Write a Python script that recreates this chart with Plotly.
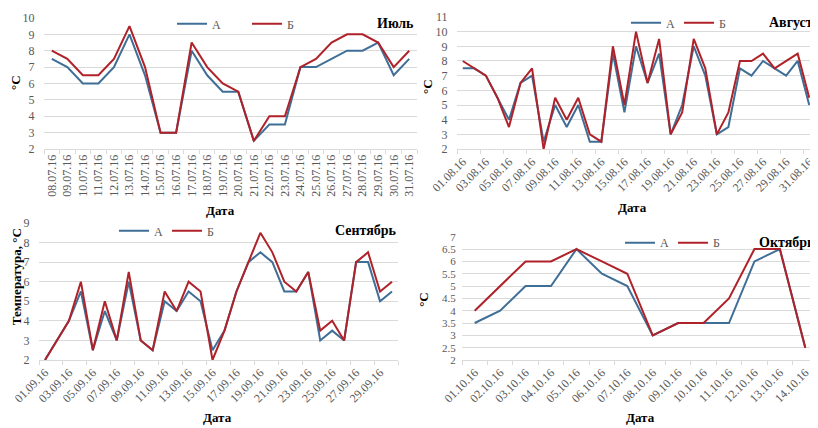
import plotly.graph_objects as go

# ---------------- data ----------------
jul_dates = ["08.07.16", "09.07.16", "10.07.16", "11.07.16", "12.07.16", "13.07.16",
             "14.07.16", "15.07.16", "16.07.16", "17.07.16", "18.07.16", "19.07.16",
             "20.07.16", "21.07.16", "22.07.16", "23.07.16", "24.07.16", "25.07.16",
             "26.07.16", "27.07.16", "28.07.16", "29.07.16", "30.07.16", "31.07.16"]
jul_a = [7.5, 7, 6, 6, 7, 9, 6.5, 3, 3, 8, 6.5, 5.5, 5.5, 2.5, 3.5, 3.5, 7, 7, 7.5, 8, 8, 8.5, 6.5, 7.5]
jul_b = [8, 7.5, 6.5, 6.5, 7.5, 9.5, 7, 3, 3, 8.5, 7, 6, 5.5, 2.5, 4, 4, 7, 7.5, 8.5, 9, 9, 8.5, 7, 8]

aug_dates = ["01.08.16", "02.08.16", "03.08.16", "04.08.16", "05.08.16", "06.08.16",
             "07.08.16", "08.08.16", "09.08.16", "10.08.16", "11.08.16", "12.08.16",
             "13.08.16", "14.08.16", "15.08.16", "16.08.16", "17.08.16", "18.08.16",
             "19.08.16", "20.08.16", "21.08.16", "22.08.16", "23.08.16", "24.08.16",
             "25.08.16", "26.08.16", "27.08.16", "28.08.16", "29.08.16", "30.08.16",
             "31.08.16"]
aug_a = [7.5, 7.5, 7, 5.5, 4, 6.5, 7, 2.5, 5, 3.5, 5, 2.5, 2.5, 8.5, 4.5, 9, 6.5, 8.5,
         3, 5, 9, 7, 3, 3.5, 7.5, 7, 8, 7.5, 7, 8, 5]
aug_b = [8, 7.5, 7, 5.5, 3.5, 6.5, 7.5, 2, 5.5, 4, 5.5, 3, 2.5, 9, 5, 10, 6.5, 9.5,
         3, 4.5, 9.5, 7.5, 3, 4.5, 8, 8, 8.5, 7.5, 8, 8.5, 5.5]

sep_dates = ["01.09.16", "02.09.16", "03.09.16", "04.09.16", "05.09.16", "06.09.16",
             "07.09.16", "08.09.16", "09.09.16", "10.09.16", "11.09.16", "12.09.16",
             "13.09.16", "14.09.16", "15.09.16", "16.09.16", "17.09.16", "18.09.16",
             "19.09.16", "20.09.16", "21.09.16", "22.09.16", "23.09.16", "24.09.16",
             "25.09.16", "26.09.16", "27.09.16", "28.09.16", "29.09.16", "30.09.16"]
sep_a = [2, 3, 4, 5.5, 2.5, 4.5, 3, 6, 3, 2.5, 5, 4.5, 5.5, 5, 2.5, 3.5, 5.5, 7,
         7.5, 7, 5.5, 5.5, 6.5, 3, 3.5, 3, 7, 7, 5, 5.5]
sep_b = [2, 3, 4, 6, 2.5, 5, 3, 6.5, 3, 2.5, 5.5, 4.5, 6, 5.5, 2, 3.5, 5.5, 7,
         8.5, 7.5, 6, 5.5, 6.5, 3.5, 4, 3, 7, 7.5, 5.5, 6]

oct_dates = ["01.10.16", "02.10.16", "03.10.16", "04.10.16", "05.10.16", "06.10.16",
             "07.10.16", "08.10.16", "09.10.16", "10.10.16", "11.10.16", "12.10.16",
             "13.10.16", "14.10.16"]
oct_a = [3.5, 4, 5, 5, 6.5, 5.5, 5, 3, 3.5, 3.5, 3.5, 6, 6.5, 2.5]
oct_b = [4, 5, 6, 6, 6.5, 6, 5.5, 3, 3.5, 3.5, 4.5, 6.5, 6.5, 2.5]

series_names = ["А", "Б"]
month_titles = ["Июль", "Август", "Сентябрь", "Октябрь"]

# ---------------- style ----------------
OFF = 8                      # page body margin of the html page
W, H = 818 - OFF, 428 - OFF  # figure size so that it ends at the window edge
BLUE = "#3F6E96"
RED = "#AF2229"
GRID = "#DADADA"
TICKC = "#595959"
FONT = "Liberation Serif"


def px(x):
    return (x - OFF) / W


def py(y):
    return 1 - (y - OFF) / H


panels = [
    dict(dates=jul_dates, a=jul_a, b=jul_b, title=month_titles[0],
         xd=[44, 417], yd=[145, 12], yr=[2, 10], dt=1, xdt=1, ang=-90, ygap=6, yfs=12,
         ytitle="°C", yt_pos=(16, 78), dt_pos=(220, 207),
         leg=(172, 18), legw=30, tpos=(416, 18)),
    dict(dates=aug_dates, a=aug_a, b=aug_b, title=month_titles[1],
         xd=[457, 815], yd=[145, 11], yr=[2, 11], dt=1, xdt=2, ang=-45, ygap=6, yfs=12,
         ytitle="°C", yt_pos=(428, 82), dt_pos=(632, 204),
         leg=(626, 17), legw=8, tpos=(815, 17)),
    dict(dates=sep_dates, a=sep_a, b=sep_b, title=month_titles[2],
         xd=[39, 398], yd=[359, 220], yr=[2, 9], dt=1, xdt=2, ang=-45, ygap=6, yfs=12,
         ytitle="Температура, °C", yt_pos=(16, 275), dt_pos=(217, 417),
         leg=(114, 228), legw=8, tpos=(399, 228)),
    dict(dates=oct_dates, a=oct_a, b=oct_b, title=month_titles[3],
         xd=[462, 818], yd=[359, 234], yr=[2, 7], dt=0.5, xdt=1, ang=-45, ygap=3, yfs=11,
         ytitle="°C", yt_pos=(424, 298), dt_pos=(640, 417),
         leg=(620, 240), legw=8, tpos=(817, 240)),
]

fig = go.Figure()
annotations = []
layout = {}

for i, p in enumerate(panels, start=1):
    sfx = "" if i == 1 else str(i)
    legname = "legend" if i == 1 else f"legend{i}"
    for name, vals, col in ((series_names[0], p["a"], BLUE), (series_names[1], p["b"], RED)):
        fig.add_trace(go.Scatter(
            x=p["dates"], y=vals, mode="lines", name=name,
            line=dict(color=col, width=2),
            xaxis="x" + sfx, yaxis="y" + sfx, legend=legname,
        ))
    layout["xaxis" + sfx] = dict(
        domain=[px(p["xd"][0]), min(px(p["xd"][1]), 1.0)],
        anchor="y" + sfx, type="category",
        range=[-0.5, len(p["dates"]) - 0.5],
        tickson="boundaries", ticks="outside", ticklen=4, tickcolor=GRID,
        showline=True, linecolor=GRID, linewidth=1,
        showgrid=False, tickangle=p["ang"], dtick=p["xdt"],
        tickfont=dict(family=FONT, size=12, color=TICKC),
        automargin=False, fixedrange=True,
    )
    layout["yaxis" + sfx] = dict(
        domain=[py(p["yd"][0]), py(p["yd"][1])],
        anchor="x" + sfx, range=p["yr"], dtick=p["dt"],
        showgrid=True, gridcolor=GRID, gridwidth=1,
        zeroline=False, showline=False,
        ticks="outside", ticklen=p["ygap"], tickcolor="rgba(0,0,0,0)",
        tickfont=dict(family=FONT, size=p["yfs"], color=TICKC),
        automargin=False, fixedrange=True,
    )
    layout[legname] = dict(
        orientation="h", x=px(p["leg"][0]), y=py(p["leg"][1]),
        xanchor="left", yanchor="middle", bgcolor="rgba(0,0,0,0)",
        font=dict(family=FONT, size=12, color=TICKC),
        entrywidth=p["legw"], entrywidthmode="pixels", itemwidth=30,
        tracegroupgap=0,
    )
    # month title
    annotations.append(dict(
        text="<b>" + p["title"] + "</b>", x=px(p["tpos"][0]), y=py(p["tpos"][1]),
        xref="paper", yref="paper", xanchor="right", yanchor="middle",
        showarrow=False, font=dict(family=FONT, size=14, color="#000000"),
    ))
    # y title
    annotations.append(dict(
        text="<b>" + p["ytitle"] + "</b>", x=px(p["yt_pos"][0]), y=py(p["yt_pos"][1]),
        xref="paper", yref="paper", xanchor="center", yanchor="middle",
        textangle=-90, showarrow=False,
        font=dict(family=FONT, size=13, color="#000000"),
    ))
    # x title
    annotations.append(dict(
        text="<b>Дата</b>", x=px(p["dt_pos"][0]), y=py(p["dt_pos"][1]),
        xref="paper", yref="paper", xanchor="center", yanchor="middle",
        showarrow=False, font=dict(family=FONT, size=13, color="#000000"),
    ))

fig.update_layout(
    width=W, height=H, margin=dict(l=0, r=0, t=0, b=0),
    paper_bgcolor="white", plot_bgcolor="white",
    showlegend=True, annotations=annotations,
    font=dict(family=FONT),
    **layout,
)

fig.write_html("out.html")
